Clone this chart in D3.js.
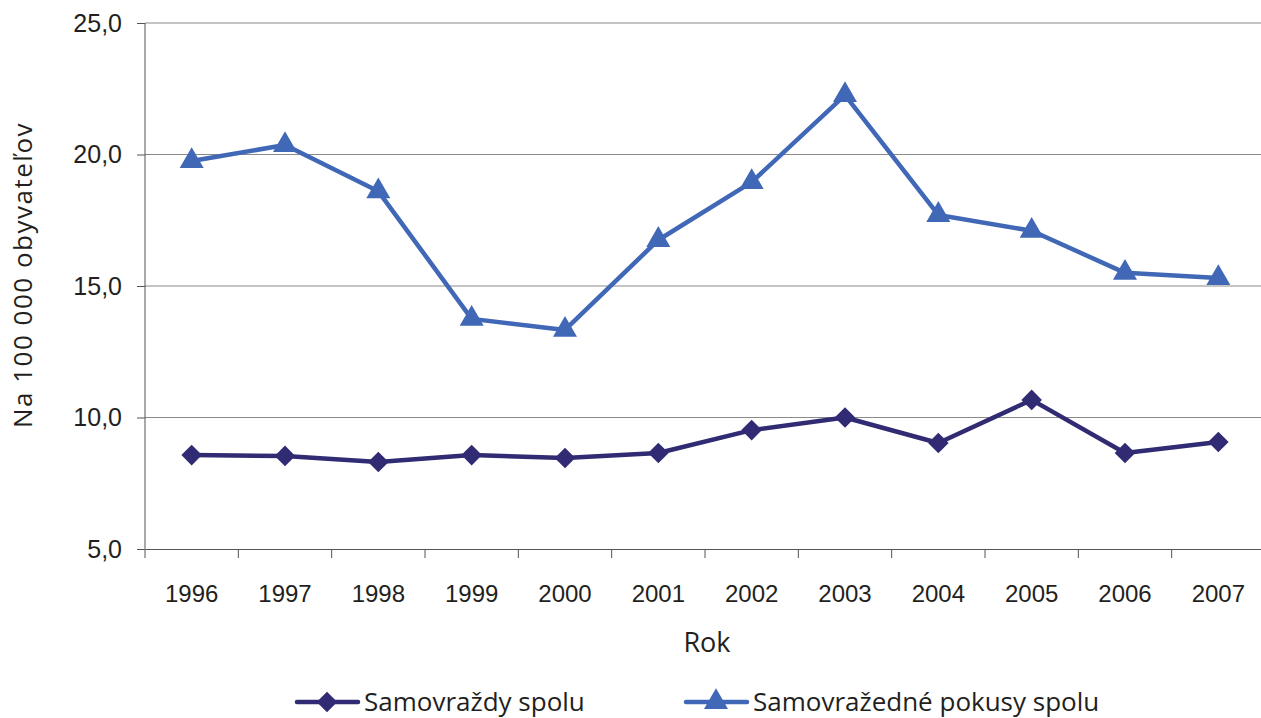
<!DOCTYPE html>
<html>
<head>
<meta charset="utf-8">
<script src="https://cdn.jsdelivr.net/npm/d3@7"></script>
<style>
  body { margin: 0; background: #fff; }
  svg { display: block; font-family: "Open Sans", "Noto Sans", sans-serif; }
  .tick text { fill: #231f20; }
</style>
</head>
<body>
<svg id="chart" width="1261" height="718"></svg>
<script>
const years = ["1996", "1997", "1998", "1999", "2000", "2001", "2002", "2003", "2004", "2005", "2006", "2007"];
const suicides = [8.57, 8.54, 8.31, 8.57, 8.46, 8.65, 9.52, 10.0, 9.03, 10.67, 8.65, 9.07];
const attempts = [19.75, 20.36, 18.6, 13.75, 13.33, 16.75, 18.95, 22.26, 17.7, 17.1, 15.5, 15.3];
const yTicks = [5, 10, 15, 20, 25];
const seriesNames = ["Samovraždy spolu", "Samovražedné pokusy spolu"];

const svg = d3.select("#chart");
const plotLeft = 145, plotTop = 23, plotBottom = 549, plotRight = 1265;

const x = d3.scaleBand().domain(years).range([plotLeft, plotRight]);
const y = d3.scaleLinear().domain([5, 25]).range([plotBottom, plotTop]);

// gridlines
svg.append("g")
  .selectAll("line")
  .data(yTicks.slice(1))
  .join("line")
  .attr("x1", plotLeft).attr("x2", plotRight)
  .attr("y1", d => y(d)).attr("y2", d => y(d))
  .attr("stroke", "#8a8a8a").attr("stroke-width", 1);

// y axis
const yAxis = svg.append("g")
  .attr("transform", `translate(${plotLeft},0)`)
  .call(d3.axisLeft(y).tickValues(yTicks).tickSize(8).tickPadding(15)
    .tickFormat(d => d3.format(".1f")(d).replace(".", ",")));
yAxis.selectAll("text").attr("font-size", 25);
yAxis.selectAll("line, path").attr("stroke", "#555");
yAxis.select(".domain").attr("d", `M0,${plotTop}V${plotBottom}`);

// x axis
const xAxis = svg.append("g")
  .attr("transform", `translate(0,${plotBottom})`)
  .call(d3.axisBottom(x).tickSize(0).tickPadding(36));
xAxis.selectAll("text").attr("font-size", 24);
xAxis.select(".domain").attr("stroke", "#555");
xAxis.append("g")
  .selectAll("line")
  .data(years)
  .join("line")
  .attr("x1", d => x(d)).attr("x2", d => x(d))
  .attr("y1", 0).attr("y2", 9)
  .attr("stroke", "#555");

// axis titles
svg.append("text")
  .attr("x", 707).attr("y", 652)
  .attr("text-anchor", "middle")
  .attr("font-size", 27).attr("fill", "#231f20")
  .text("Rok");
svg.append("text")
  .attr("transform", "translate(32,275) rotate(-90)")
  .attr("text-anchor", "middle")
  .attr("font-size", 26).attr("fill", "#231f20")
  .attr("letter-spacing", 1.5)
  .text("Na 100 000 obyvateľov");

const cx = d => x(d) + x.bandwidth() / 2;
const line = d3.line().x((d, i) => cx(years[i])).y(d => y(d));

const colors = ["#302b72", "#4068b6"];
const diamond = d3.symbol().type(d3.symbolDiamond2).size(270);
const triangle = d3.symbol().type(d3.symbolTriangle).size(250);

[suicides, attempts].forEach((vals, k) => {
  svg.append("path")
    .datum(vals)
    .attr("d", line)
    .attr("fill", "none")
    .attr("stroke", colors[k])
    .attr("stroke-width", 4.5)
    .attr("stroke-linejoin", "round");
  svg.append("g")
    .selectAll("path")
    .data(vals)
    .join("path")
    .attr("transform", (d, i) => `translate(${cx(years[i])},${y(d)})`)
    .attr("d", k === 0 ? diamond : triangle)
    .attr("fill", colors[k]);
});

// legend
const legend = [
  { x0: 297, label: seriesNames[0], sym: diamond, color: colors[0] },
  { x0: 686, label: seriesNames[1], sym: triangle, color: colors[1] }
];
legend.forEach(l => {
  const g = svg.append("g").attr("transform", `translate(${l.x0},702)`);
  g.append("line").attr("x1", 0).attr("x2", 61)
    .attr("stroke", l.color).attr("stroke-width", 4.5).attr("stroke-linecap", "round");
  g.append("path").attr("transform", "translate(30,0)").attr("d", l.sym).attr("fill", l.color);
  g.append("text").attr("x", 67).attr("y", 9)
    .attr("font-size", 26).attr("fill", "#231f20").text(l.label);
});
</script>
</body>
</html>
